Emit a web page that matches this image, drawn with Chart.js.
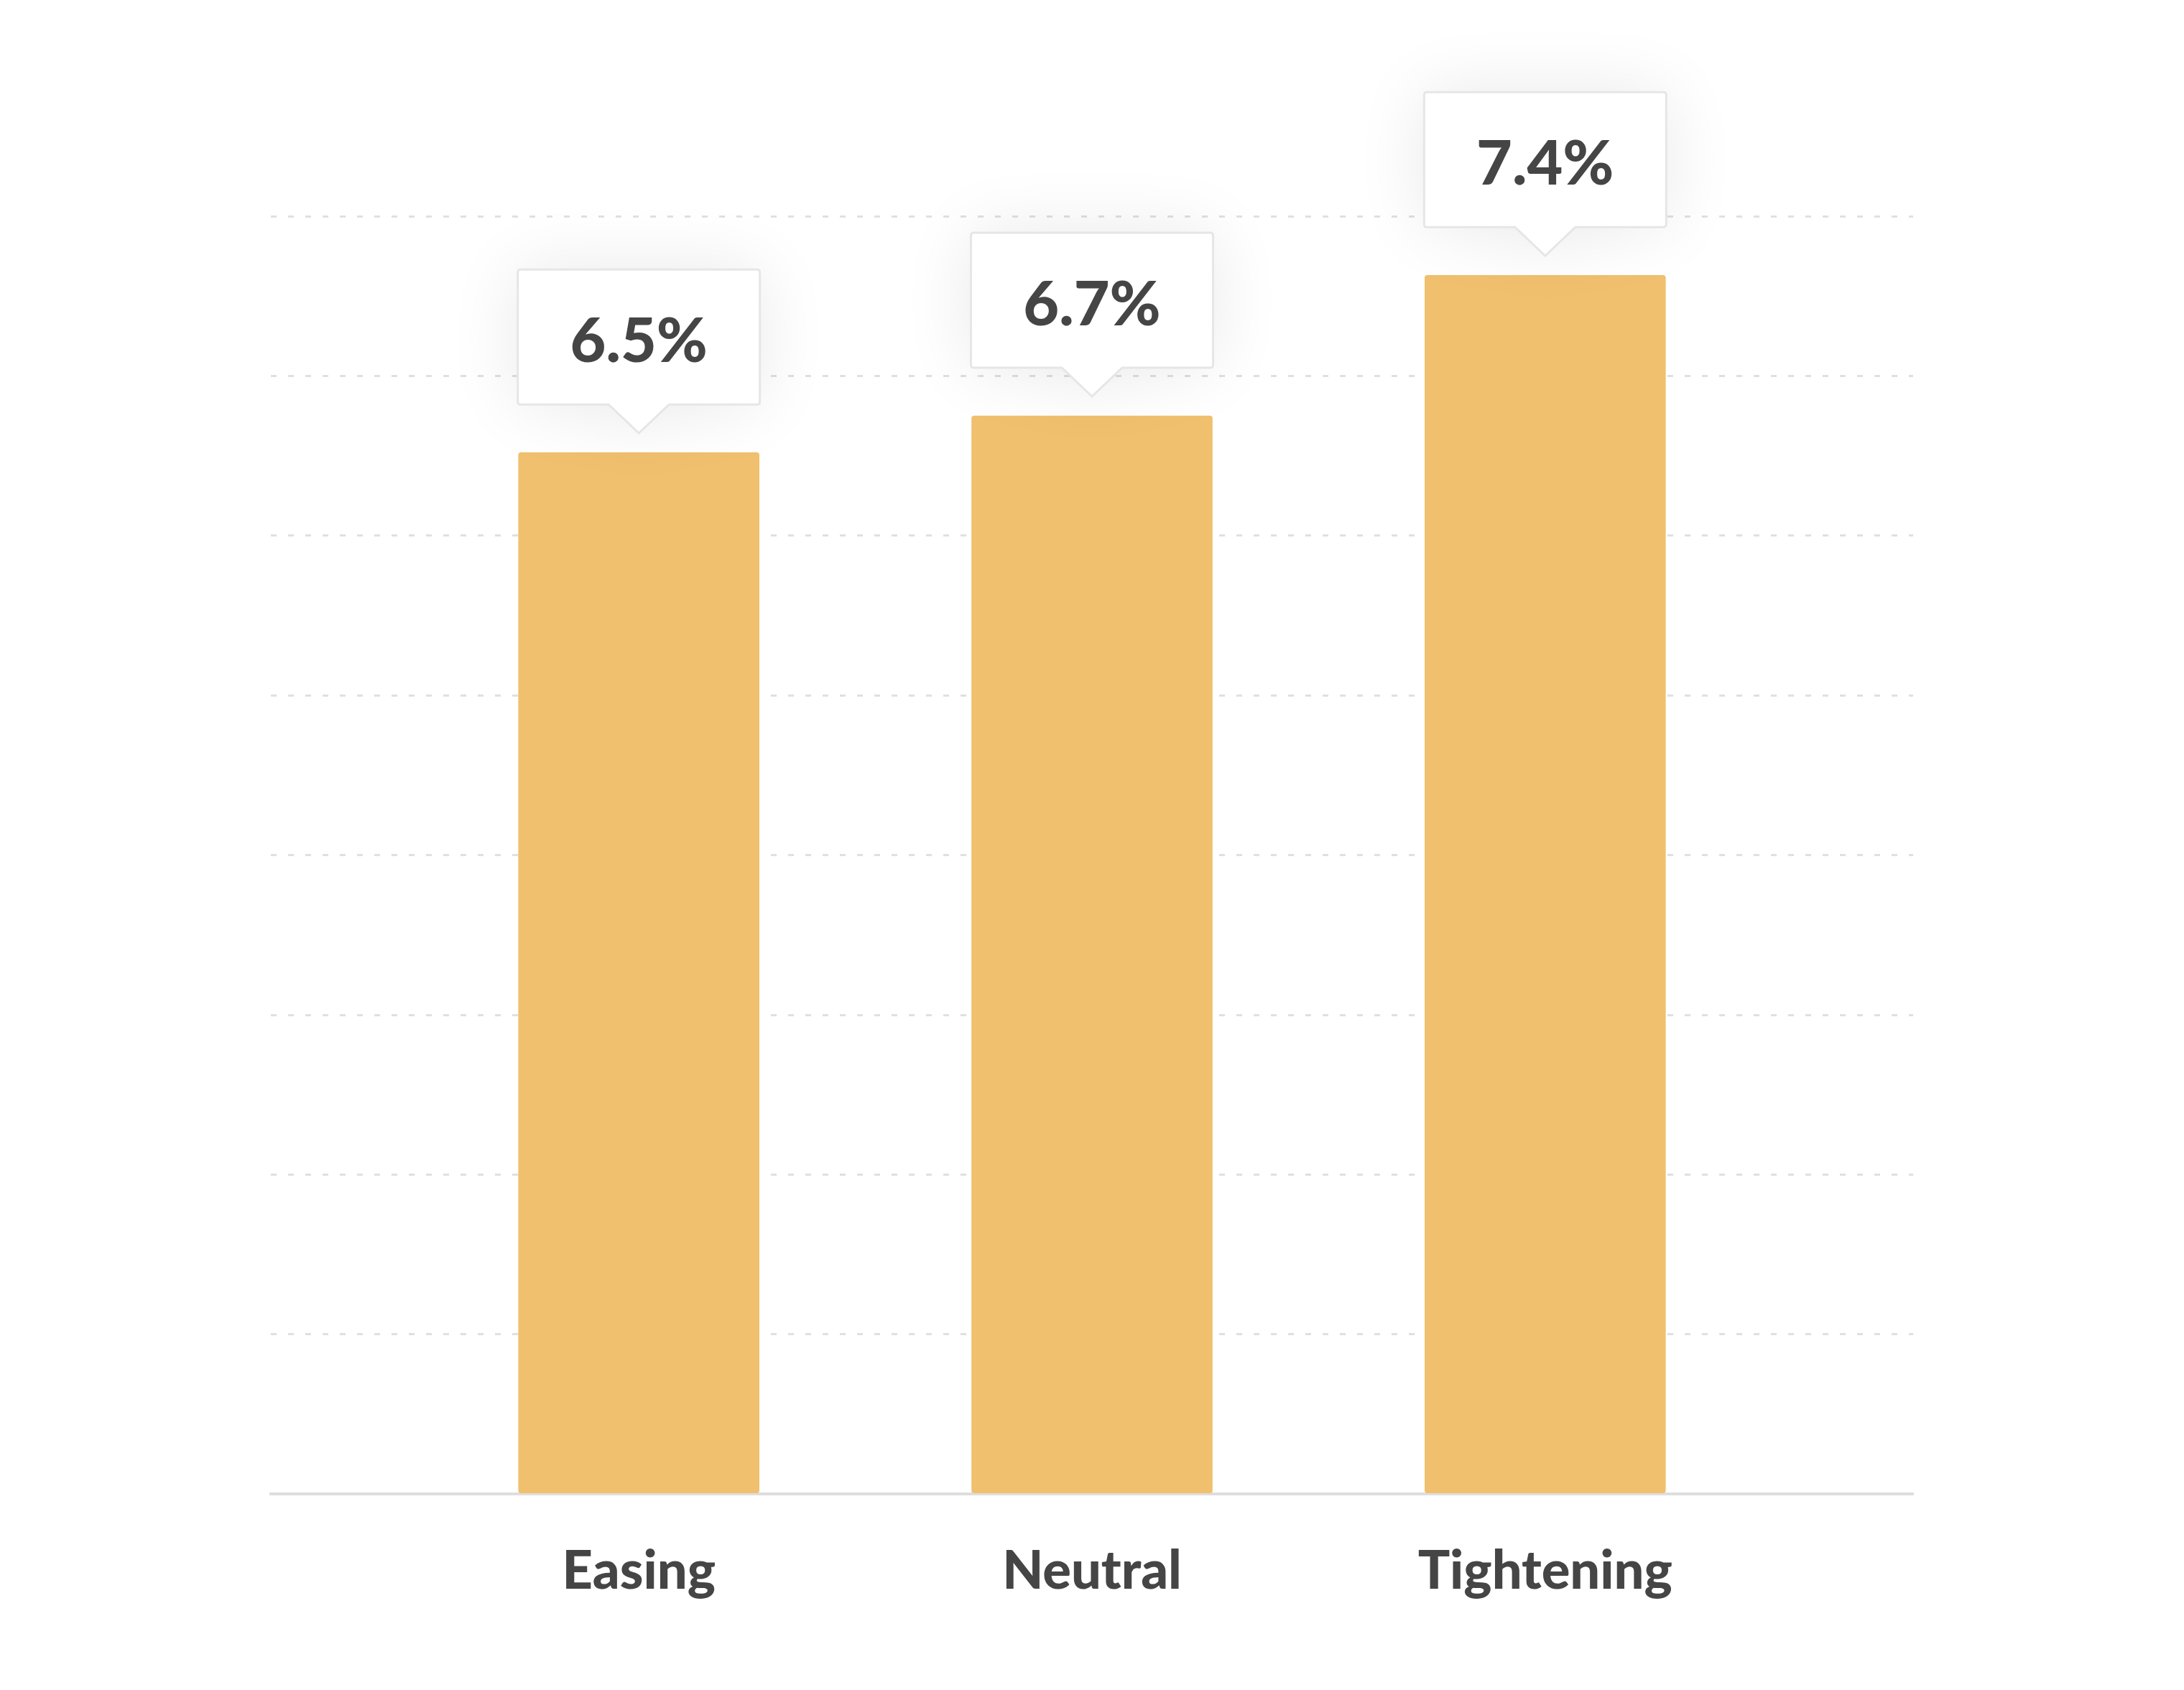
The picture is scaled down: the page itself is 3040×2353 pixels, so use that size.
<!DOCTYPE html>
<html>
<head>
<meta charset="utf-8">
<script src="https://cdn.jsdelivr.net/npm/chart.js@4.4.0/dist/chart.umd.min.js"></script>
<style>
  html, body { margin: 0; padding: 0; background: #fff; }
  #wrap { width: 3040px; height: 2353px; position: relative; }
</style>
</head>
<body>
<div id="wrap"><canvas id="barChart"></canvas></div>
<script>
// data
const categories = ["Easing", "Neutral", "Tightening"];
const barValues = [6.52, 6.75, 7.63];
const valueLabels = ["6.5%", "6.7%", "7.4%"];
const yTicks = [0, 1, 2, 3, 4, 5, 6, 7, 8];

const TEXT = "#454545";
const BAR = "#F0C06E";

// draws the white callout box above each bar
const calloutPlugin = {
  id: "callouts",
  afterDatasetsDraw(chart) {
    const ctx = chart.ctx;
    const meta = chart.getDatasetMeta(0);
    meta.data.forEach((bar, i) => {
      const cx = bar.x;
      const w = bar.width + 2;
      const left = cx - w / 2;
      const right = cx + w / 2;
      const bottom = bar.y - 67;
      const top = bottom - 188;
      const r = 4;
      const pw = 42, ph = 40;

      ctx.save();
      ctx.beginPath();
      ctx.moveTo(left + r, top);
      ctx.lineTo(right - r, top);
      ctx.quadraticCurveTo(right, top, right, top + r);
      ctx.lineTo(right, bottom - r);
      ctx.quadraticCurveTo(right, bottom, right - r, bottom);
      ctx.lineTo(cx + pw, bottom);
      ctx.lineTo(cx, bottom + ph);
      ctx.lineTo(cx - pw, bottom);
      ctx.lineTo(left + r, bottom);
      ctx.quadraticCurveTo(left, bottom, left, bottom - r);
      ctx.lineTo(left, top + r);
      ctx.quadraticCurveTo(left, top, left + r, top);
      ctx.closePath();

      ctx.shadowColor = "rgba(0,0,0,0.09)";
      ctx.shadowBlur = 100;
      ctx.fillStyle = "#fff";
      ctx.fill();
      ctx.shadowColor = "transparent";
      ctx.shadowBlur = 0;
      ctx.lineWidth = 3;
      ctx.strokeStyle = "#e6e6e6";
      ctx.stroke();

      ctx.fillStyle = TEXT;
      ctx.font = "900 86px Lato";
      ctx.textAlign = "center";
      ctx.textBaseline = "alphabetic";
      ctx.fillText(valueLabels[i], cx, top + 129);
      ctx.restore();
    });
  }
};

const ctx = document.getElementById("barChart").getContext("2d");
new Chart(ctx, {
  type: "bar",
  data: {
    datasets: [{
      data: barValues.map((v, i) => ({ x: i, y: v })),
      backgroundColor: BAR,
      borderRadius: 4,
      borderSkipped: false,
      barThickness: 335
    }]
  },
  options: {
    responsive: true,
    maintainAspectRatio: false,
    devicePixelRatio: 1,
    animation: false,
    layout: { padding: { left: 377, right: 377, top: 301, bottom: 56 } },
    plugins: {
      legend: { display: false },
      tooltip: { enabled: false }
    },
    scales: {
      x: {
        type: "linear",
        min: -0.812,
        max: 2.812,
        offset: false,
        bounds: "data",
        afterBuildTicks: (axis) => {
          axis.ticks = categories.map((c, i) => ({ value: i }));
        },
        grid: { display: false, drawTicks: false, offset: false },
        border: { display: true, color: "#dedede", width: 4 },
        ticks: {
          padding: 64,
          color: TEXT,
          font: { family: "Lato", weight: "900", size: 74 },
          callback: (v) => categories[v]
        }
      },
      y: {
        min: 0,
        max: 8,
        afterBuildTicks: (axis) => {
          axis.ticks = yTicks.map((v) => ({ value: v }));
        },
        grid: { color: "#e0e0e0", lineWidth: 3, drawTicks: false },
        border: { display: false, dash: [8, 16] },
        ticks: { display: false }
      }
    }
  },
  plugins: [calloutPlugin]
});
</script>
</body>
</html>
